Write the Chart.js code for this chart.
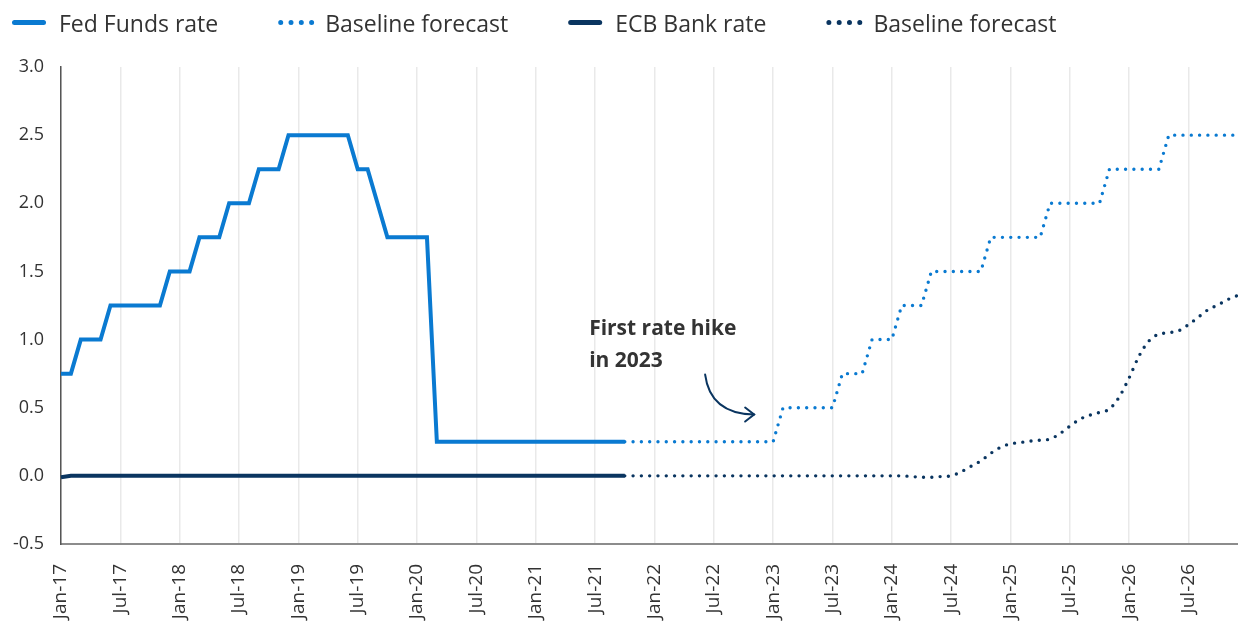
<!DOCTYPE html>
<html>
<head>
<meta charset="utf-8">
<script src="https://cdn.jsdelivr.net/npm/chart.js@4.4.1/dist/chart.umd.min.js"></script>
<style>
  html, body { margin: 0; padding: 0; background: #fff; }
  #wrap { width: 1238px; height: 625px; overflow: hidden; }
</style>
</head>
<body>
<div id="wrap"><canvas id="rateChart" width="1238" height="625"></canvas></div>
<script>
// monthly categories, Jan-17 .. Dec-26
const monthNames = ['Jan', 'Feb', 'Mar', 'Apr', 'May', 'Jun', 'Jul', 'Aug', 'Sep', 'Oct', 'Nov', 'Dec'];
const years = ['17', '18', '19', '20', '21', '22', '23', '24', '25', '26'];
const months = [];
years.forEach(y => monthNames.forEach(m => months.push(m + '-' + y)));

const yTicks = [-0.5, 0, 0.5, 1.0, 1.5, 2.0, 2.5, 3.0];
const forecastStart = 57; // Oct-21, where the dotted lines pick up

// Jan-17 .. Oct-21
const fedActual = [
  0.75, 0.75, 1, 1, 1, 1.25, 1.25, 1.25, 1.25, 1.25, 1.25, 1.5,
  1.5, 1.5, 1.75, 1.75, 1.75, 2, 2, 2, 2.25, 2.25, 2.25, 2.5,
  2.5, 2.5, 2.5, 2.5, 2.5, 2.5, 2.25, 2.25, 2, 1.75, 1.75, 1.75,
  1.75, 1.75, 0.25, 0.25, 0.25, 0.25, 0.25, 0.25, 0.25, 0.25, 0.25, 0.25,
  0.25, 0.25, 0.25, 0.25, 0.25, 0.25, 0.25, 0.25, 0.25, 0.25
];
const ecbActual = [
  -0.01, 0, 0, 0, 0, 0, 0, 0, 0, 0, 0, 0,
  0, 0, 0, 0, 0, 0, 0, 0, 0, 0, 0, 0,
  0, 0, 0, 0, 0, 0, 0, 0, 0, 0, 0, 0,
  0, 0, 0, 0, 0, 0, 0, 0, 0, 0, 0, 0,
  0, 0, 0, 0, 0, 0, 0, 0, 0, 0
];
// Oct-21 .. Dec-26
const fedForecast = [
  0.25, 0.25, 0.25, 0.25, 0.25, 0.25, 0.25, 0.25, 0.25, 0.25, 0.25, 0.25,
  0.25, 0.25, 0.25, 0.25, 0.5, 0.5, 0.5, 0.5, 0.5, 0.5, 0.75, 0.75,
  0.75, 1, 1, 1, 1.25, 1.25, 1.25, 1.5, 1.5, 1.5, 1.5, 1.5,
  1.5, 1.75, 1.75, 1.75, 1.75, 1.75, 1.75, 2, 2, 2, 2, 2,
  2, 2.25, 2.25, 2.25, 2.25, 2.25, 2.25, 2.5, 2.5, 2.5, 2.5, 2.5,
  2.5, 2.5, 2.5
];
const ecbForecast = [
  0, 0, 0, 0, 0, 0, 0, 0, 0, 0, 0, 0,
  0, 0, 0, 0, 0, 0, 0, 0, 0, 0, 0, 0,
  0, 0, 0, 0, 0, -0.005, -0.01, -0.01, -0.005, 0, 0.03, 0.07,
  0.11, 0.165, 0.21, 0.235, 0.245, 0.255, 0.262, 0.27, 0.31, 0.365, 0.415, 0.445,
  0.465, 0.49, 0.58, 0.72, 0.88, 0.99, 1.04, 1.05, 1.065, 1.11, 1.165, 1.22,
  1.255, 1.295, 1.325
];

const FED_BLUE = '#0a7ad1';
const ECB_NAVY = '#0a3560';
const TEXT = '#333333';

function place(values, start) {
  const out = new Array(months.length).fill(null);
  values.forEach((v, i) => { out[start + i] = v; });
  return out;
}

Chart.defaults.font.family = '"Open Sans", sans-serif';
Chart.defaults.color = TEXT;

// legend drawn by hand so the spacing matches
const topLegend = {
  id: 'topLegend',
  afterDraw(chart) {
    const ctx = chart.ctx;
    ctx.save();
    ctx.font = '23px "Open Sans"';
    ctx.textBaseline = 'alphabetic';
    let x = 12;
    chart.data.datasets.forEach(ds => {
      ctx.beginPath();
      ctx.lineCap = 'round';
      ctx.strokeStyle = ds.borderColor;
      ctx.lineWidth = 5;
      if (ds.borderDash) {
        ctx.setLineDash([0, 10.3]);
        ctx.moveTo(x + 2.5, 22.5);
        ctx.lineTo(x + 33.5, 22.5);
      } else {
        ctx.setLineDash([]);
        ctx.moveTo(x + 2.5, 22.5);
        ctx.lineTo(x + 31.5, 22.5);
      }
      ctx.stroke();
      ctx.setLineDash([]);
      ctx.fillStyle = TEXT;
      ctx.fillText(ds.label, x + 47, 31.5);
      x += 47 + ctx.measureText(ds.label).width + 60;
    });
    ctx.restore();
  }
};

// "First rate hike in 2023" note with curved arrow
const hikeNote = {
  id: 'hikeNote',
  afterDatasetsDraw(chart) {
    const ctx = chart.ctx;
    const xs = chart.scales.x, ys = chart.scales.y;
    const tipX = xs.getPixelForValue(72) - 19;
    const tipY = ys.getPixelForValue(0.45);
    ctx.save();
    ctx.fillStyle = TEXT;
    ctx.font = 'bold 21px "Open Sans"';
    ctx.textBaseline = 'alphabetic';
    ctx.fillText('First rate hike', tipX - 165, tipY - 80);
    ctx.fillText('in 2023', tipX - 165, tipY - 48);
    ctx.strokeStyle = ECB_NAVY;
    ctx.lineWidth = 2;
    ctx.lineCap = 'round';
    ctx.beginPath();
    ctx.moveTo(tipX - 49, tipY - 40);
    ctx.quadraticCurveTo(tipX - 44, tipY - 1, tipX, tipY);
    ctx.stroke();
    ctx.beginPath();
    ctx.moveTo(tipX - 9, tipY - 7);
    ctx.lineTo(tipX, tipY);
    ctx.lineTo(tipX - 9, tipY + 7);
    ctx.stroke();
    ctx.restore();
  }
};

const ctx = document.getElementById('rateChart');
new Chart(ctx, {
  type: 'line',
  data: {
    labels: months,
    datasets: [
      {
        label: 'Fed Funds rate',
        data: place(fedActual, 0),
        borderColor: FED_BLUE,
        borderWidth: 4,
        pointRadius: 0,
        tension: 0
      },
      {
        label: 'Baseline forecast',
        data: place(fedForecast, forecastStart),
        borderColor: FED_BLUE,
        borderWidth: 3.4,
        borderDash: [0, 8.3],
        borderCapStyle: 'round',
        pointRadius: 0,
        tension: 0
      },
      {
        label: 'ECB Bank rate',
        data: place(ecbActual, 0),
        borderColor: ECB_NAVY,
        borderWidth: 4,
        pointRadius: 0,
        tension: 0
      },
      {
        label: 'Baseline forecast',
        data: place(ecbForecast, forecastStart),
        borderColor: ECB_NAVY,
        borderWidth: 3.4,
        borderDash: [0, 8.3],
        borderCapStyle: 'round',
        pointRadius: 0,
        cubicInterpolationMode: 'monotone'
      }
    ]
  },
  options: {
    responsive: false,
    animation: false,
    layout: { padding: { top: 67, right: 0, bottom: 0, left: 0 } },
    plugins: {
      legend: { display: false },
      tooltip: { enabled: false }
    },
    scales: {
      x: {
        grid: {
          color: c => (c.index % 6 === 0 ? '#e9e9e9' : 'rgba(0,0,0,0)'),
          lineWidth: 1.5,
          drawTicks: false
        },
        border: { color: '#8c8c8c', width: 2 },
        ticks: {
          autoSkip: false,
          maxRotation: 90,
          minRotation: 90,
          padding: 20,
          color: TEXT,
          font: { size: 19 },
          callback: (v, i) => (i % 6 === 0 ? months[i] : '')
        },
        afterFit: s => { s.height = 81; s.paddingLeft = 0; s.paddingRight = 0; }
      },
      y: {
        min: -0.5,
        max: 3,
        grid: { display: false, drawTicks: false },
        border: { display: true, color: '#555555', width: 1.5 },
        ticks: {
          padding: 17,
          color: TEXT,
          font: { size: 18 },
          callback: v => v.toFixed(1)
        },
        afterBuildTicks: s => { s.ticks = yTicks.map(v => ({ value: v })); },
        afterFit: s => { s.width = 61; }
      }
    }
  },
  plugins: [topLegend, hikeNote]
});
</script>
</body>
</html>
